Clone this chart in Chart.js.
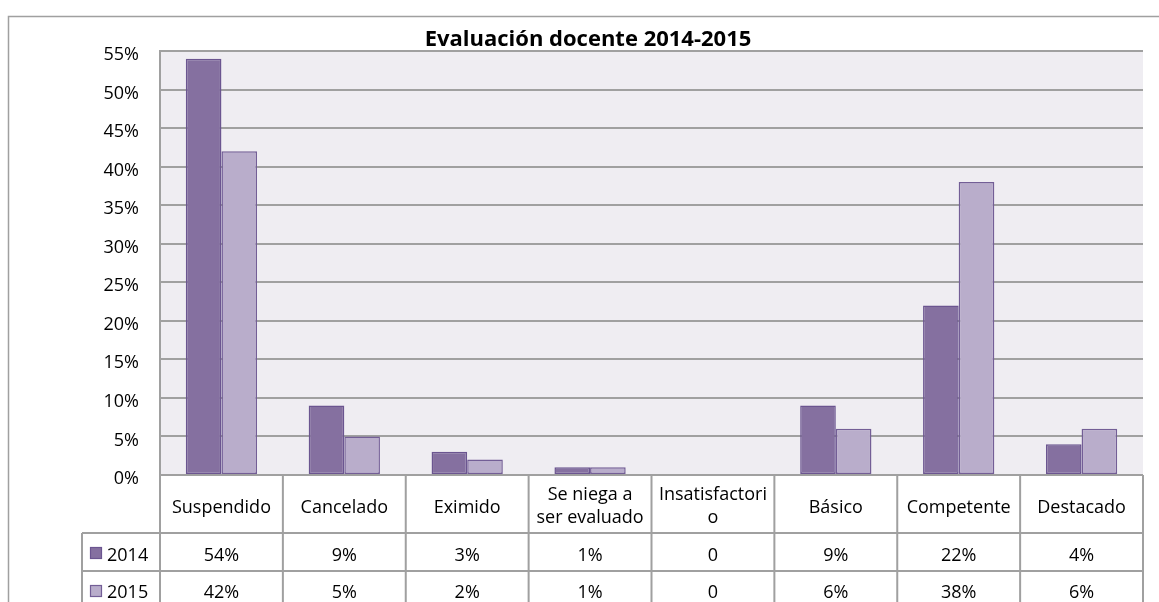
<!DOCTYPE html>
<html>
<head>
<meta charset="utf-8">
<script src="https://cdn.jsdelivr.net/npm/chart.js@4"></script>
<style>
html,body{margin:0;padding:0;background:#fff;}
#c{display:block;}
</style>
</head>
<body>
<canvas id="c" width="1159" height="602"></canvas>
<script>
const chartTitle = 'Evaluación docente 2014-2015';
const categories = ['Suspendido', 'Cancelado', 'Eximido', ['Se niega a', 'ser evaluado'], ['Insatisfactori', 'o'], 'Básico', 'Competente', 'Destacado'];
const seriesNames = ['2014', '2015'];
const values2014 = [54, 9, 3, 1, 0, 9, 22, 4];
const values2015 = [42, 5, 2, 1, 0, 6, 38, 6];
const yTicks = [0, 5, 10, 15, 20, 25, 30, 35, 40, 45, 50, 55];

const FONT = "'Open Sans', 'DejaVu Sans', sans-serif";
const GRID = '#A0A0A0';
const fills = ['#8570A0', '#B9ADCB'];
const borders = ['#6B5590', '#735E96'];

function fmt(v) { return v === 0 ? '0' : v + '%'; }

const decor = {
  id: 'decor',
  beforeDraw(chart) {
    const ctx = chart.ctx, a = chart.chartArea;
    ctx.save();
    ctx.fillStyle = '#fff';
    ctx.fillRect(0, 0, chart.width, chart.height);
    ctx.strokeStyle = GRID;
    ctx.lineWidth = 1.5;
    ctx.strokeRect(8.5, 16.5, 1300, 800);
    ctx.fillStyle = '#EFEDF2';
    ctx.fillRect(a.left, a.top, a.right - a.left, a.bottom - a.top);
    ctx.restore();
  },
  afterDraw(chart) {
    const ctx = chart.ctx, a = chart.chartArea;
    const xs = chart.scales.x;
    const n = categories.length;
    const cw = (a.right - a.left) / n;
    const headTop = a.bottom, headBot = a.bottom + 58;
    const r1 = headBot, r2 = headBot + 38, r3 = headBot + 76;
    const legL = 82;
    ctx.save();
    ctx.strokeStyle = GRID;
    ctx.lineWidth = 2;
    ctx.beginPath();
    // horizontal lines
    ctx.moveTo(a.left, headTop); ctx.lineTo(a.right, headTop);
    ctx.moveTo(legL, r1); ctx.lineTo(a.right, r1);
    ctx.moveTo(legL, r2); ctx.lineTo(a.right, r2);
    ctx.moveTo(legL, r3); ctx.lineTo(a.right, r3);
    // vertical lines
    for (let i = 0; i <= n; i++) {
      const x = a.left + i * cw;
      ctx.moveTo(x, headTop); ctx.lineTo(x, r3);
    }
    ctx.moveTo(legL, r1); ctx.lineTo(legL, r3);
    ctx.stroke();

    ctx.fillStyle = '#000';
    ctx.font = '18px ' + FONT;
    ctx.textAlign = 'center';
    ctx.textBaseline = 'alphabetic';
    categories.forEach((lab, i) => {
      const cx = xs.getPixelForValue(i);
      const lines = Array.isArray(lab) ? lab : [lab];
      if (lines.length === 1) {
        ctx.fillText(lines[0], cx, headTop + 38);
      } else {
        ctx.fillText(lines[0], cx, headTop + 25);
        ctx.fillText(lines[1], cx, headTop + 48);
      }
      ctx.fillText(fmt(values2014[i]), cx, r1 + 28);
      ctx.fillText(fmt(values2015[i]), cx, r2 + 27);
    });
    // legend keys
    [[r1, 0], [r2, 1]].forEach(([top, k]) => {
      ctx.fillStyle = fills[k];
      ctx.strokeStyle = borders[k];
      ctx.lineWidth = 1.2;
      ctx.fillRect(90, top + 14, 12, 12);
      ctx.strokeRect(90.5, top + 14.5, 11, 11);
      ctx.fillStyle = '#000';
      ctx.textAlign = 'left';
      ctx.fillText(seriesNames[k], 107, top + 28 - (k ? 1 : 0));
    });
    // title
    ctx.font = 'bold 22px ' + FONT;
    ctx.textAlign = 'center';
    ctx.fillText(chartTitle, 588, 46);
    ctx.restore();
  }
};

new Chart(document.getElementById('c'), {
  type: 'bar',
  data: {
    labels: categories,
    datasets: [
      { label: seriesNames[0], data: values2014, backgroundColor: fills[0], borderColor: borders[0],
        borderWidth: c => (c.raw === 0 ? 0 : 1.5), borderSkipped: false },
      { label: seriesNames[1], data: values2015, backgroundColor: fills[1], borderColor: borders[1],
        borderWidth: c => (c.raw === 0 ? 0 : 1.5), borderSkipped: false }
    ]
  },
  options: {
    responsive: false,
    animation: false,
    devicePixelRatio: 1,
    layout: { padding: { left: 80, top: 51, right: 16, bottom: 127 } },
    datasets: { bar: { barPercentage: 1, categoryPercentage: 0.58 } },
    plugins: { legend: { display: false }, tooltip: { enabled: false }, title: { display: false } },
    scales: {
      x: { display: false },
      y: {
        min: 0, max: 55,
        afterFit(s) { s.width = 80; },
        afterBuildTicks(s) { s.ticks = yTicks.map(v => ({ value: v })); },
        ticks: { callback: v => v + '%', color: '#000', font: { family: FONT, size: 18 }, padding: 21, labelOffset: 4 },
        grid: { color: GRID, lineWidth: 2, drawTicks: false },
        border: { color: GRID, width: 2 }
      }
    }
  },
  plugins: [decor]
});
</script>
</body>
</html>
